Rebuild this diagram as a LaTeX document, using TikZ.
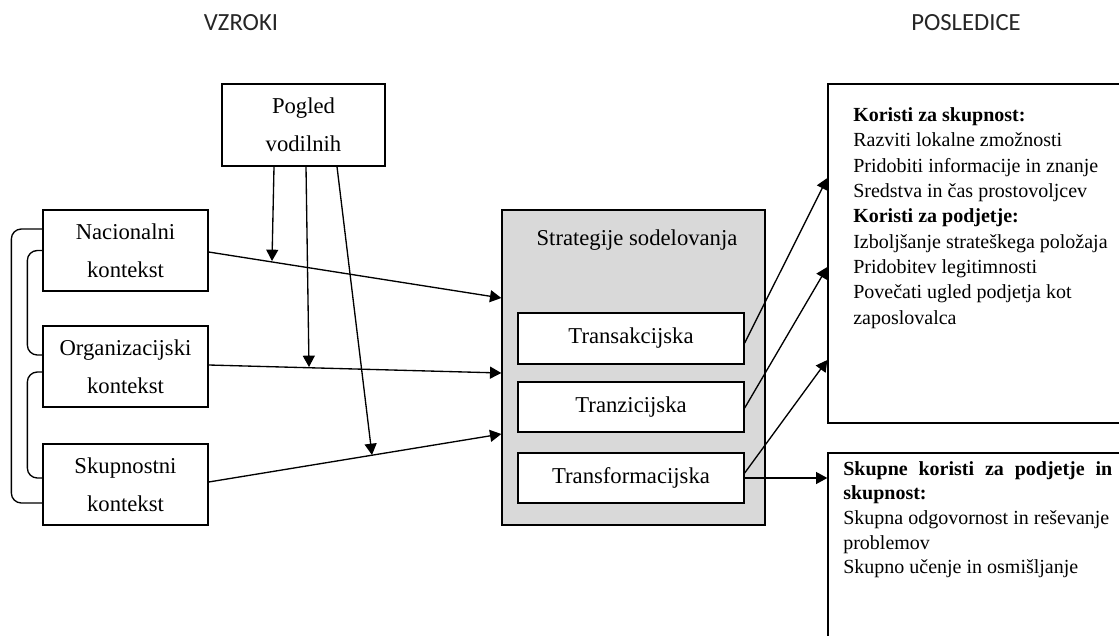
\documentclass[tikz,border=0pt]{standalone}
\usepackage{fontspec}
\setmainfont{Liberation Serif}
\newfontfamily\headfont{Carlito}
\usetikzlibrary{arrows.meta,calc}
\definecolor{boxgray}{RGB}{217,217,217}
\begin{document}
\begin{tikzpicture}[x=0.75pt,y=-0.75pt,
  box/.style={draw,line width=1pt,rectangle,inner sep=0pt,align=center,font=\fontsize{17}{28.5}\selectfont},
  conn/.style={line width=1pt},
  arr/.style={line width=1pt,-{Triangle[length=8.5pt,width=9pt]}},
  head/.style={font=\headfont\fontsize{18.5}{22}\selectfont,text=black!85},
  list/.style={anchor=north west,align=left,inner sep=0pt,font=\fontsize{15}{19}\selectfont}
]
\useasboundingbox (0,0) rectangle (1119,635);
\clip (0,0) rectangle (1119,635);

% headings
\node[head] (vz) at (241,23) {VZROKI};
\node[head] (pos) at (966,23) {POSLEDICE};

% causes
\node[box,minimum width=123.75pt,minimum height=60.75pt] (nac) at (125.5,250.5) {Nacionalni\\kontekst};
\node[box,minimum width=123.75pt,minimum height=60.75pt] (org) at (125.5,366.5) {Organizacijski\\kontekst};
\node[box,minimum width=123.75pt,minimum height=60.75pt] (sku) at (125.5,484.5) {Skupnostni\\kontekst};
\node[box,minimum width=122.25pt,minimum height=61.5pt] (pog) at (303.5,125) {Pogled\\vodilnih};

% strategies
\node[box,fill=boxgray,minimum width=197.25pt,minimum height=236.25pt] (gray) at (633.5,367.5) {};
\node[font=\fontsize{17}{20}\selectfont,inner sep=0pt] (sl) at (637,240) {Strategije sodelovanja};
\node[box,fill=white,minimum width=169.5pt,minimum height=38.25pt] (t1) at (631,338.5) {Transakcijska};
\node[box,fill=white,minimum width=169.5pt,minimum height=37.5pt] (t2) at (631,407) {Tranzicijska};
\node[box,fill=white,minimum width=169.5pt,minimum height=37.5pt] (t3) at (631,478) {Transformacijska};

% consequences
\node[draw,line width=1pt,minimum width=222.75pt,minimum height=254.25pt] (ben1) at (976.5,253.5) {};
\node[draw,line width=1pt,minimum width=222.75pt,minimum height=147.75pt] (ben2) at (976.5,551.5) {};
\node[list] (tx1) at (853,107.5) {\textbf{Koristi za skupnost:}\\
Razviti lokalne zmožnosti\\
Pridobiti informacije in znanje\\
Sredstva in čas prostovoljcev\\
\textbf{Koristi za podjetje:}\\
Izboljšanje strateškega položaja\\
Pridobitev legitimnosti\\
Povečati ugled podjetja kot\\
zaposlovalca};
\node[list,font=\fontsize{15}{18.5}\selectfont] (tx2) at (843,461) {\makebox[201.75pt][s]{\textbf{Skupne koristi za podjetje in}}\\
\textbf{skupnost:}\\
Skupna odgovornost in reševanje\\
problemov\\
Skupno učenje in osmišljanje};

% brackets
\draw[conn,rounded corners=7.5pt] ($(nac.west)+(0,-21.5)$) -| ($(sku.west)+(-31,18.5)$) -- ($(sku.west)+(0,18.5)$);
\draw[conn,rounded corners=7.5pt] (nac.west) -| ($(org.west)+(-15,-11.5)$) -- ($(org.west)+(0,-11.5)$);
\draw[conn,rounded corners=7.5pt] ($(org.west)+(0,5.5)$) -| ($(sku.west)+(-15,-6.5)$) -- ($(sku.west)+(0,-6.5)$);

% causes to strategies
\draw[arr] ($(nac.east)+(0,1.5)$) -- (gray.west |- 0,298);
\draw[arr] ($(org.east)+(0,-1.5)$) -- (gray.west |- 0,373);
\draw[arr] ($(sku.east)+(0,-2.5)$) -- (gray.west |- 0,434);

% leaders' view
\coordinate (m1) at (272,261);
\coordinate (m2) at (309,367);
\coordinate (m3) at (372,455);
\draw[arr] ($(pog.south)+(-29.5,0)$) -- (m1);
\draw[arr] ($(pog.south)+(2.5,0)$) -- (m2);
\draw[arr] ($(pog.south)+(33.5,0)$) -- (m3);

% strategies to consequences
\draw[arr] ($(t1.east)+(0,4.5)$) -- (ben1.west |- 0,178);
\draw[arr] ($(t2.east)+(0,1)$) -- (ben1.west |- 0,267);
\draw[arr] ($(t3.east)+(0,-5)$) -- (ben1.west |- 0,360);
\draw[arr] (t3.east) -- (ben2.west |- t3.east);
\end{tikzpicture}
\end{document}
